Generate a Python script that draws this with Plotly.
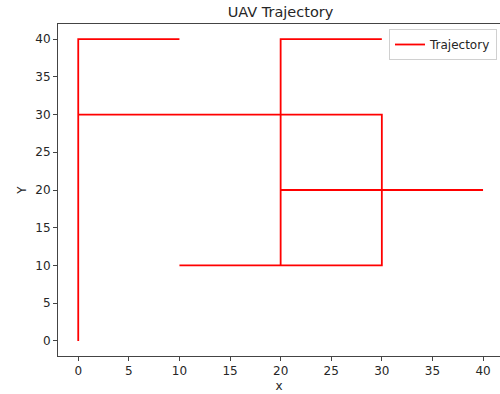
import plotly.graph_objects as go

# Trajectory waypoints
path_x = [0, 0, 10, 0, 0, 30, 30, 10, 20, 20, 30, 20, 20, 40]
path_y = [0, 40, 40, 40, 30, 30, 10, 10, 10, 40, 40, 40, 20, 20]
x_ticks = [0, 5, 10, 15, 20, 25, 30, 35, 40]
y_ticks = [0, 5, 10, 15, 20, 25, 30, 35, 40]

W, H = 500, 394
ML, MR, MT, MB = 58, 0, 24, 38
TXT = "#262626"

fig = go.Figure()
fig.add_trace(go.Scatter(
    x=path_x, y=path_y, mode="lines", name="Trajectory",
    line=dict(color="#ff0000", width=1.8),
))

fig.update_layout(
    width=W, height=H,
    margin=dict(l=ML, r=MR, t=MT, b=MB, autoexpand=False),
    plot_bgcolor="white", paper_bgcolor="white",
    font=dict(family="DejaVu Sans", size=12, color=TXT),
    showlegend=True,
    title=dict(text="UAV Trajectory", x=280.5 / W, xref="container", xanchor="center",
               y=1 - 12 / H, yref="container", yanchor="middle",
               font=dict(family="DejaVu Sans", size=14.5, color=TXT)),
    legend=dict(x=(497 - ML) / (W - ML - MR), xanchor="right",
                y=1 - (29 - MT) / (H - MT - MB), yanchor="top",
                bordercolor="#d0d0d0", borderwidth=1, bgcolor="white",
                font=dict(family="DejaVu Sans", size=12, color=TXT),
                itemwidth=30, tracegroupgap=0),
)
fig.update_xaxes(
    range=[-2, -2 + (W - ML - MR) / 10.12], tickvals=x_ticks, ticks="outside", ticklen=4,
    tickcolor="#444", showline=True, linecolor="#444", linewidth=1, mirror=True,
    showgrid=False, zeroline=False, automargin=False,
    tickfont=dict(family="DejaVu Sans", size=12, color=TXT),
    title=dict(text="x", standoff=4, font=dict(family="DejaVu Sans", size=12, color=TXT)),
)
fig.update_yaxes(
    range=[-2, 42], tickvals=y_ticks, ticks="outside", ticklen=4,
    tickcolor="#444", showline=True, linecolor="#444", linewidth=1,
    showgrid=False, zeroline=False, automargin=False,
    tickfont=dict(family="DejaVu Sans", size=12, color=TXT),
    title=dict(text="Y", standoff=6, font=dict(family="DejaVu Sans", size=12, color=TXT)),
)

fig.write_html("out.html", config={"displayModeBar": False},
               post_script="document.body.style.margin='0px';document.body.style.overflow='hidden';")
